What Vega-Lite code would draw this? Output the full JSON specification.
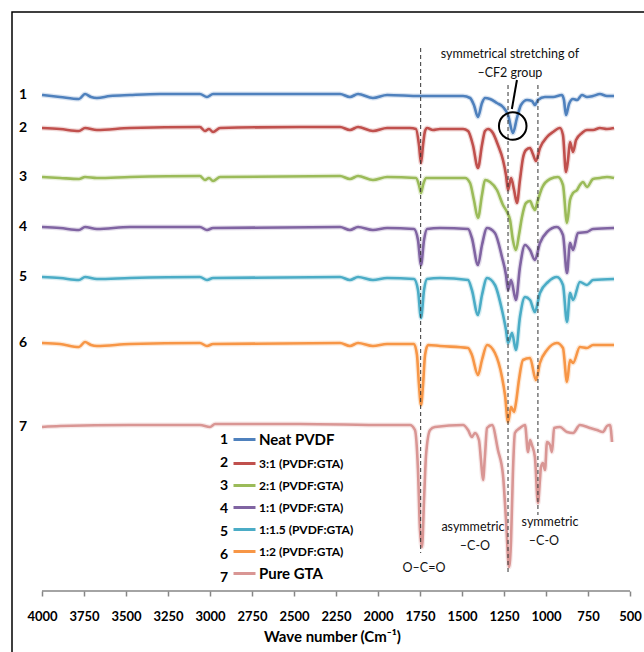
{
"$schema":"https://vega.github.io/schema/vega-lite/v6.json",
"width":640,"height":650,"autosize":"none",
"padding":{"left":12,"top":12,"right":0,"bottom":0},
"background":"white",
"config":{"view":{"stroke":"#000000","strokeWidth":1.5},"font":"Lato"},
"datasets":{
"names":[{"n":1,"s":"Neat PVDF"},{"n":2,"s":"3:1 (PVDF:GTA)"},{"n":3,"s":"2:1 (PVDF:GTA)"},{"n":4,"s":"1:1 (PVDF:GTA)"},{"n":5,"s":"1:1.5 (PVDF:GTA)"},{"n":6,"s":"1:2 (PVDF:GTA)"},{"n":7,"s":"Pure GTA"}],
"spectra":[
{"n":1,"w":4000,"t":111},{"n":1,"w":3893,"t":110.6},{"n":1,"w":3780,"t":110.2},{"n":1,"w":3744,"t":111.2},{"n":1,"w":3708,"t":110.6},{"n":1,"w":3673,"t":110.4},{"n":1,"w":3595,"t":110.8},{"n":1,"w":3476,"t":111},{"n":1,"w":3298,"t":111.2},{"n":1,"w":3060,"t":111.2},{"n":1,"w":3018,"t":110.6},{"n":1,"w":2982,"t":111.2},{"n":1,"w":2762,"t":111.2},{"n":1,"w":2464,"t":111.2},{"n":1,"w":2226,"t":111.2},{"n":1,"w":2167,"t":110.6},{"n":1,"w":2119,"t":111.2},{"n":1,"w":2030,"t":110.4},{"n":1,"w":1946,"t":111},{"n":1,"w":1750,"t":110.8},{"n":1,"w":1631,"t":110.8},{"n":1,"w":1494,"t":110.8},{"n":1,"w":1452,"t":110.4},{"n":1,"w":1429,"t":109},{"n":1,"w":1405,"t":106.6},{"n":1,"w":1381,"t":109.4},{"n":1,"w":1363,"t":110.4},{"n":1,"w":1333,"t":110.2},{"n":1,"w":1292,"t":109.4},{"n":1,"w":1256,"t":108.6},{"n":1,"w":1226,"t":107},{"n":1,"w":1197,"t":103.4},{"n":1,"w":1173,"t":106.4},{"n":1,"w":1149,"t":109},{"n":1,"w":1113,"t":110},{"n":1,"w":1084,"t":109.8},{"n":1,"w":1066,"t":109},{"n":1,"w":1048,"t":110},{"n":1,"w":1006,"t":110.6},{"n":1,"w":958,"t":110.6},{"n":1,"w":905,"t":111},{"n":1,"w":893,"t":110},{"n":1,"w":881,"t":107},{"n":1,"w":863,"t":109.2},{"n":1,"w":839,"t":110.2},{"n":1,"w":815,"t":110},{"n":1,"w":786,"t":111},{"n":1,"w":756,"t":110.6},{"n":1,"w":720,"t":110.8},{"n":1,"w":679,"t":111.2},{"n":1,"w":637,"t":110.8},{"n":1,"w":595,"t":110.8},
{"n":2,"w":4000,"t":104.4},{"n":2,"w":3893,"t":104.2},{"n":2,"w":3780,"t":103.8},{"n":2,"w":3744,"t":104.4},{"n":2,"w":3673,"t":104},{"n":2,"w":3476,"t":104.4},{"n":2,"w":3060,"t":104.6},{"n":2,"w":3030,"t":103.8},{"n":2,"w":3006,"t":104.2},{"n":2,"w":2982,"t":103.6},{"n":2,"w":2940,"t":104.4},{"n":2,"w":2464,"t":104.6},{"n":2,"w":2226,"t":104.6},{"n":2,"w":2167,"t":104},{"n":2,"w":2119,"t":104.6},{"n":2,"w":2030,"t":103.8},{"n":2,"w":1946,"t":104.4},{"n":2,"w":1810,"t":104.4},{"n":2,"w":1774,"t":104.2},{"n":2,"w":1756,"t":101},{"n":2,"w":1744,"t":97.4},{"n":2,"w":1732,"t":101},{"n":2,"w":1720,"t":103.8},{"n":2,"w":1708,"t":104.4},{"n":2,"w":1673,"t":104},{"n":2,"w":1631,"t":104.2},{"n":2,"w":1494,"t":104.2},{"n":2,"w":1464,"t":103.8},{"n":2,"w":1435,"t":101},{"n":2,"w":1405,"t":96.4},{"n":2,"w":1381,"t":101},{"n":2,"w":1363,"t":103.8},{"n":2,"w":1345,"t":104.2},{"n":2,"w":1316,"t":103.4},{"n":2,"w":1286,"t":101},{"n":2,"w":1256,"t":98},{"n":2,"w":1238,"t":95},{"n":2,"w":1226,"t":92},{"n":2,"w":1208,"t":94.4},{"n":2,"w":1190,"t":92},{"n":2,"w":1173,"t":89.4},{"n":2,"w":1155,"t":94},{"n":2,"w":1137,"t":98.4},{"n":2,"w":1119,"t":100},{"n":2,"w":1095,"t":100.4},{"n":2,"w":1078,"t":99.2},{"n":2,"w":1060,"t":97.8},{"n":2,"w":1036,"t":100.4},{"n":2,"w":994,"t":102.6},{"n":2,"w":958,"t":103.6},{"n":2,"w":917,"t":104.4},{"n":2,"w":899,"t":103},{"n":2,"w":881,"t":95.6},{"n":2,"w":869,"t":98},{"n":2,"w":857,"t":101.6},{"n":2,"w":839,"t":99.6},{"n":2,"w":821,"t":102},{"n":2,"w":786,"t":103.4},{"n":2,"w":756,"t":104},{"n":2,"w":720,"t":104},{"n":2,"w":679,"t":104.4},{"n":2,"w":637,"t":104.2},{"n":2,"w":595,"t":104.4},
{"n":3,"w":4000,"t":94.6},{"n":3,"w":3893,"t":94.4},{"n":3,"w":3780,"t":94.2},{"n":3,"w":3744,"t":94.6},{"n":3,"w":3673,"t":94.4},{"n":3,"w":3476,"t":94.6},{"n":3,"w":3060,"t":94.8},{"n":3,"w":3030,"t":94},{"n":3,"w":3006,"t":94.4},{"n":3,"w":2982,"t":93.8},{"n":3,"w":2940,"t":94.6},{"n":3,"w":2226,"t":94.8},{"n":3,"w":2167,"t":94.2},{"n":3,"w":2119,"t":94.8},{"n":3,"w":2030,"t":94},{"n":3,"w":1946,"t":94.6},{"n":3,"w":1774,"t":94.4},{"n":3,"w":1756,"t":93},{"n":3,"w":1744,"t":91.4},{"n":3,"w":1732,"t":93},{"n":3,"w":1714,"t":94.4},{"n":3,"w":1631,"t":94.4},{"n":3,"w":1482,"t":94.4},{"n":3,"w":1452,"t":93.4},{"n":3,"w":1429,"t":90},{"n":3,"w":1405,"t":86.4},{"n":3,"w":1381,"t":91},{"n":3,"w":1363,"t":94},{"n":3,"w":1333,"t":93.6},{"n":3,"w":1292,"t":92},{"n":3,"w":1256,"t":89},{"n":3,"w":1232,"t":87.6},{"n":3,"w":1214,"t":86},{"n":3,"w":1197,"t":82},{"n":3,"w":1179,"t":80},{"n":3,"w":1161,"t":83},{"n":3,"w":1143,"t":86.6},{"n":3,"w":1119,"t":89.4},{"n":3,"w":1095,"t":89.8},{"n":3,"w":1078,"t":88.6},{"n":3,"w":1066,"t":88},{"n":3,"w":1048,"t":90},{"n":3,"w":1024,"t":92.4},{"n":3,"w":976,"t":94.2},{"n":3,"w":929,"t":94.6},{"n":3,"w":899,"t":93},{"n":3,"w":875,"t":85.4},{"n":3,"w":857,"t":90},{"n":3,"w":839,"t":91.4},{"n":3,"w":815,"t":92},{"n":3,"w":798,"t":93},{"n":3,"w":780,"t":93.6},{"n":3,"w":756,"t":92.6},{"n":3,"w":720,"t":94.2},{"n":3,"w":679,"t":94.4},{"n":3,"w":637,"t":94.6},{"n":3,"w":595,"t":94.4},
{"n":4,"w":4000,"t":84.6},{"n":4,"w":3893,"t":84.4},{"n":4,"w":3780,"t":84},{"n":4,"w":3744,"t":84.6},{"n":4,"w":3673,"t":84.2},{"n":4,"w":3476,"t":84.6},{"n":4,"w":3060,"t":84.6},{"n":4,"w":3018,"t":84},{"n":4,"w":2982,"t":84.4},{"n":4,"w":2226,"t":84.6},{"n":4,"w":2167,"t":84},{"n":4,"w":2119,"t":84.6},{"n":4,"w":2030,"t":84},{"n":4,"w":1946,"t":84.4},{"n":4,"w":1786,"t":84.2},{"n":4,"w":1762,"t":82},{"n":4,"w":1744,"t":77},{"n":4,"w":1726,"t":82},{"n":4,"w":1708,"t":84.2},{"n":4,"w":1631,"t":84.4},{"n":4,"w":1464,"t":84.2},{"n":4,"w":1441,"t":82.4},{"n":4,"w":1405,"t":77},{"n":4,"w":1381,"t":81},{"n":4,"w":1351,"t":84.4},{"n":4,"w":1304,"t":83.4},{"n":4,"w":1262,"t":78.6},{"n":4,"w":1238,"t":75},{"n":4,"w":1226,"t":72},{"n":4,"w":1208,"t":74},{"n":4,"w":1179,"t":70},{"n":4,"w":1155,"t":76.6},{"n":4,"w":1125,"t":81},{"n":4,"w":1095,"t":80},{"n":4,"w":1066,"t":78},{"n":4,"w":1036,"t":81.4},{"n":4,"w":994,"t":83.6},{"n":4,"w":935,"t":84.6},{"n":4,"w":899,"t":83},{"n":4,"w":875,"t":75.4},{"n":4,"w":857,"t":81.4},{"n":4,"w":839,"t":80},{"n":4,"w":810,"t":83.4},{"n":4,"w":756,"t":83.6},{"n":4,"w":720,"t":84.2},{"n":4,"w":595,"t":84.4},
{"n":5,"w":4000,"t":74.6},{"n":5,"w":3893,"t":74.4},{"n":5,"w":3780,"t":74},{"n":5,"w":3744,"t":74.6},{"n":5,"w":3673,"t":74.2},{"n":5,"w":3476,"t":74.4},{"n":5,"w":3060,"t":74.6},{"n":5,"w":3018,"t":74},{"n":5,"w":2982,"t":74.4},{"n":5,"w":2226,"t":74.6},{"n":5,"w":2167,"t":74},{"n":5,"w":2119,"t":74.6},{"n":5,"w":2030,"t":74},{"n":5,"w":1946,"t":74.4},{"n":5,"w":1786,"t":74.2},{"n":5,"w":1762,"t":72},{"n":5,"w":1744,"t":66.4},{"n":5,"w":1726,"t":72},{"n":5,"w":1708,"t":74.2},{"n":5,"w":1631,"t":74.4},{"n":5,"w":1464,"t":74},{"n":5,"w":1441,"t":72},{"n":5,"w":1405,"t":67},{"n":5,"w":1381,"t":71},{"n":5,"w":1351,"t":74.4},{"n":5,"w":1304,"t":73},{"n":5,"w":1262,"t":68},{"n":5,"w":1238,"t":64},{"n":5,"w":1226,"t":61.4},{"n":5,"w":1202,"t":63.4},{"n":5,"w":1179,"t":60},{"n":5,"w":1155,"t":66.6},{"n":5,"w":1125,"t":70.6},{"n":5,"w":1095,"t":70},{"n":5,"w":1066,"t":67.6},{"n":5,"w":1036,"t":71.4},{"n":5,"w":988,"t":73.6},{"n":5,"w":935,"t":74.6},{"n":5,"w":899,"t":73},{"n":5,"w":875,"t":65.6},{"n":5,"w":857,"t":71.4},{"n":5,"w":839,"t":70},{"n":5,"w":798,"t":73.6},{"n":5,"w":756,"t":73},{"n":5,"w":720,"t":74},{"n":5,"w":595,"t":74.2},
{"n":6,"w":4000,"t":61.4},{"n":6,"w":3893,"t":61.2},{"n":6,"w":3780,"t":60.6},{"n":6,"w":3744,"t":61.6},{"n":6,"w":3708,"t":61},{"n":6,"w":3673,"t":60.8},{"n":6,"w":3476,"t":61.2},{"n":6,"w":3060,"t":61.4},{"n":6,"w":3018,"t":60.8},{"n":6,"w":2982,"t":61.2},{"n":6,"w":2226,"t":61.4},{"n":6,"w":2167,"t":60.8},{"n":6,"w":2119,"t":61.4},{"n":6,"w":2030,"t":60.8},{"n":6,"w":1946,"t":61.2},{"n":6,"w":1786,"t":61.2},{"n":6,"w":1768,"t":59},{"n":6,"w":1756,"t":53},{"n":6,"w":1744,"t":49},{"n":6,"w":1732,"t":53},{"n":6,"w":1720,"t":59},{"n":6,"w":1702,"t":61},{"n":6,"w":1631,"t":60.8},{"n":6,"w":1464,"t":60.4},{"n":6,"w":1441,"t":59},{"n":6,"w":1405,"t":55},{"n":6,"w":1381,"t":58},{"n":6,"w":1351,"t":61},{"n":6,"w":1304,"t":59.4},{"n":6,"w":1262,"t":54.6},{"n":6,"w":1244,"t":51},{"n":6,"w":1226,"t":45.6},{"n":6,"w":1208,"t":48.6},{"n":6,"w":1190,"t":47.6},{"n":6,"w":1179,"t":49.4},{"n":6,"w":1161,"t":54},{"n":6,"w":1137,"t":58},{"n":6,"w":1095,"t":58.4},{"n":6,"w":1060,"t":54},{"n":6,"w":1036,"t":57.4},{"n":6,"w":994,"t":60},{"n":6,"w":935,"t":61.4},{"n":6,"w":899,"t":60.4},{"n":6,"w":875,"t":53.6},{"n":6,"w":857,"t":58},{"n":6,"w":839,"t":57.4},{"n":6,"w":798,"t":60.6},{"n":6,"w":756,"t":60.4},{"n":6,"w":720,"t":61},{"n":6,"w":595,"t":61},
{"n":7,"w":4000,"t":44.6},{"n":7,"w":3893,"t":44.8},{"n":7,"w":3476,"t":45},{"n":7,"w":3060,"t":45},{"n":7,"w":3000,"t":44.6},{"n":7,"w":2970,"t":45.2},{"n":7,"w":2464,"t":45.2},{"n":7,"w":1946,"t":45},{"n":7,"w":1810,"t":45},{"n":7,"w":1780,"t":44},{"n":7,"w":1762,"t":36},{"n":7,"w":1750,"t":24},{"n":7,"w":1738,"t":20.6},{"n":7,"w":1726,"t":30},{"n":7,"w":1714,"t":39},{"n":7,"w":1690,"t":44},{"n":7,"w":1661,"t":44.6},{"n":7,"w":1494,"t":45},{"n":7,"w":1464,"t":44},{"n":7,"w":1441,"t":42.6},{"n":7,"w":1423,"t":43.4},{"n":7,"w":1399,"t":42},{"n":7,"w":1387,"t":38},{"n":7,"w":1375,"t":34},{"n":7,"w":1363,"t":39},{"n":7,"w":1351,"t":44.4},{"n":7,"w":1321,"t":45},{"n":7,"w":1286,"t":40},{"n":7,"w":1256,"t":35},{"n":7,"w":1238,"t":26},{"n":7,"w":1220,"t":16.6},{"n":7,"w":1208,"t":22},{"n":7,"w":1197,"t":35.4},{"n":7,"w":1185,"t":43.4},{"n":7,"w":1155,"t":44.4},{"n":7,"w":1125,"t":45},{"n":7,"w":1107,"t":39.6},{"n":7,"w":1095,"t":42},{"n":7,"w":1084,"t":41},{"n":7,"w":1066,"t":38.6},{"n":7,"w":1048,"t":29.4},{"n":7,"w":1036,"t":34},{"n":7,"w":1030,"t":36.6},{"n":7,"w":1018,"t":37.4},{"n":7,"w":1006,"t":36},{"n":7,"w":994,"t":41.6},{"n":7,"w":976,"t":41},{"n":7,"w":964,"t":39.6},{"n":7,"w":952,"t":44.4},{"n":7,"w":917,"t":44.6},{"n":7,"w":875,"t":43.6},{"n":7,"w":839,"t":43.4},{"n":7,"w":798,"t":45},{"n":7,"w":738,"t":44.4},{"n":7,"w":697,"t":44},{"n":7,"w":661,"t":43.6},{"n":7,"w":637,"t":44.8},{"n":7,"w":619,"t":45},{"n":7,"w":607,"t":41.6}
],
"dashes":[{"w":1746,"top":120.4,"bottom":19.4},{"w":1226,"top":113,"bottom":15},{"w":1048,"top":113,"bottom":27}],
"notes":[{"w":1215,"t":119.2,"label":"symmetrical stretching of"},{"w":1215,"t":115.4,"label":"–CF2 group"},{"w":1435,"t":24.6,"label":"asymmetric"},{"w":1423,"t":20.8,"label":"–C-O"},{"w":976,"t":25.6,"label":"symmetric"},{"w":1012,"t":21.8,"label":"–C-O"},{"w":1726,"t":16.4,"label":"O–C=O"}]
},
"layer":[
{"data":{"name":"spectra"},
 "transform":[{"lookup":"n","from":{"data":{"name":"names"},"key":"n","fields":["s"]}}],
 "mark":{"type":"line","interpolate":"monotone","strokeWidth":5,"opacity":0.22},
 "encoding":{
  "x":{"field":"w","type":"quantitative","scale":{"domain":[369,4178.6],"reverse":true,"nice":false,"zero":false},
   "axis":{"values":[4000,3750,3500,3250,3000,2750,2500,2250,2000,1750,1500,1250,1000,750,500],"format":"d","domain":false,"grid":false,"offset":-71,"tickColor":"#868686","tickSize":5,"tickWidth":1.5,"labelFont":"Lato","labelFontWeight":"bold","labelFontSize":13,"labelColor":"#000000","labelPadding":14,"labelFlush":false,"labelOverlap":false,"title":"Wave number (Cm⁻¹)","titleFont":"Lato","titleFontWeight":"bold","titleFontSize":15,"titleColor":"#000000","titlePadding":6}},
  "y":{"field":"t","type":"quantitative","scale":{"domain":[-2.4,127.6],"nice":false,"zero":false},"axis":null},
  "color":{"field":"s","type":"nominal","scale":{"domain":["Neat PVDF","3:1 (PVDF:GTA)","2:1 (PVDF:GTA)","1:1 (PVDF:GTA)","1:1.5 (PVDF:GTA)","1:2 (PVDF:GTA)","Pure GTA"],"range":["#4f81bd","#c0504d","#9bbb59","#8064a2","#4bacc6","#f79646","#d99694"]},
   "legend":{"orient":"none","legendX":220,"legendY":415,"title":null,"padding":0,"symbolType":"stroke","symbolSize":484,"symbolStrokeWidth":3,"symbolOpacity":1,"labelFont":"Lato","labelFontWeight":"bold","labelFontSize":{"expr":"datum.label === 'Neat PVDF' || datum.label === 'Pure GTA' ? 15 : 12"},"labelColor":"#000000","labelOffset":2,"rowPadding":3,"labelLimit":300}}
 }},
{"data":{"name":"spectra"},
 "transform":[{"lookup":"n","from":{"data":{"name":"names"},"key":"n","fields":["s"]}}],
 "mark":{"type":"line","interpolate":"monotone","strokeWidth":2.6},
 "encoding":{
  "x":{"field":"w","type":"quantitative"},
  "y":{"field":"t","type":"quantitative"},
  "color":{"field":"s","type":"nominal"}
 }},
{"data":{"name":"spectra"},
 "transform":[{"filter":"datum.w === 4000"}],
 "mark":{"type":"point","filled":true,"size":10},
 "encoding":{
  "x":{"field":"w","type":"quantitative"},
  "y":{"field":"t","type":"quantitative"},
  "opacity":{"field":"n","type":"nominal","scale":{"domain":[1,2,3,4,5,6,7],"range":[0.001,0.001,0.001,0.001,0.001,0.001,0.001]},
   "legend":{"orient":"none","legendX":181,"legendY":415,"title":null,"padding":0,"symbolType":"stroke","symbolSize":484,"symbolStrokeWidth":3,"symbolOpacity":0,"labelFont":"Lato","labelFontWeight":"bold","labelFontSize":14,"labelColor":"#000000","labelOffset":2,"rowPadding":3}}
 }},
{"data":{"name":"spectra"},
 "transform":[{"filter":"datum.w === 4000"}],
 "mark":{"type":"text","dx":-19,"font":"Lato","fontWeight":"bold","fontSize":14,"color":"#000000","align":"center","baseline":"middle"},
 "encoding":{
  "x":{"field":"w","type":"quantitative"},
  "y":{"field":"t","type":"quantitative"},
  "text":{"field":"n","type":"nominal"}
 }},
{"data":{"name":"dashes"},
 "mark":{"type":"rule","strokeDash":[4,3],"color":"#333333","strokeWidth":1},
 "encoding":{
  "x":{"field":"w","type":"quantitative"},
  "y":{"field":"top","type":"quantitative"},
  "y2":{"field":"bottom"}
 }},
{"data":{"values":[{}]},
 "mark":{"type":"rule","color":"#868686","strokeWidth":1.5},
 "encoding":{"x":{"datum":4000},"x2":{"datum":500},"y":{"datum":11.8}}},
{"data":{"name":"notes"},
 "mark":{"type":"text","font":"Lato","fontSize":12.5,"color":"#111111","align":"center","baseline":"middle"},
 "encoding":{
  "x":{"field":"w","type":"quantitative"},
  "y":{"field":"t","type":"quantitative"},
  "text":{"field":"label","type":"nominal"}
 }},
{"data":{"values":[{}]},
 "mark":{"type":"point","shape":"circle","filled":false,"stroke":"#000000","strokeWidth":2,"size":760,"opacity":1},
 "encoding":{"x":{"datum":1198},"y":{"datum":104.8}}},
{"data":{"values":[{}]},
 "mark":{"type":"rule","color":"#000000","strokeWidth":2},
 "encoding":{"x":{"datum":1173},"y":{"datum":114},"x2":{"datum":1203},"y2":{"datum":108.2}}}
]
}
